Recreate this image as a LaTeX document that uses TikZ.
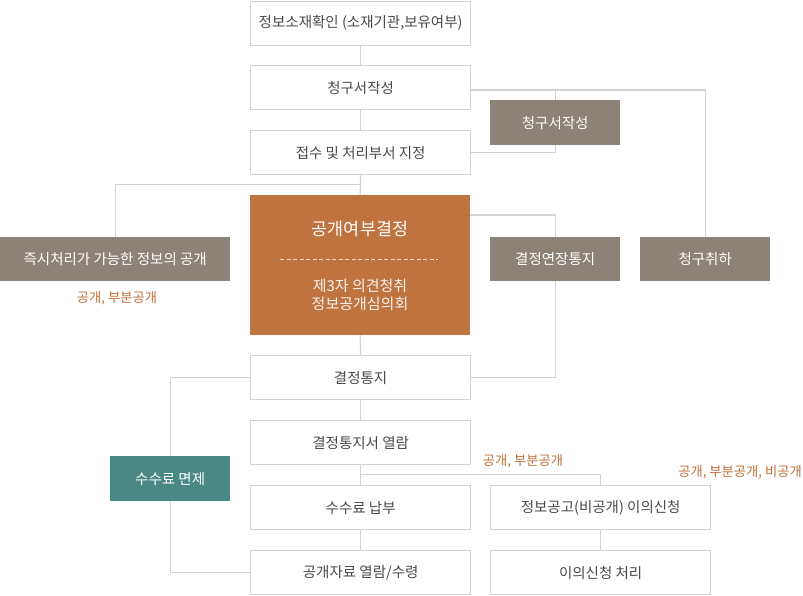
\documentclass[tikz,border=0pt]{standalone}
\usepackage{fontspec}
\setmainfont{Noto Sans CJK KR}
\usetikzlibrary{calc}
\definecolor{linegray}{HTML}{D3D3D3}
\definecolor{txtgray}{HTML}{4A4A4A}
\definecolor{boxgray}{HTML}{8C8278}
\definecolor{boxorange}{HTML}{BF733F}
\definecolor{boxteal}{HTML}{4A8983}
\definecolor{lblorange}{HTML}{C0703A}
\tikzset{
  base/.style={anchor=north west, inner sep=0pt, align=center, font=\fontsize{14.5}{17}\selectfont},
  wbox/.style={base, draw=linegray, line width=1.3pt, fill=white, text=txtgray, minimum width=220pt, minimum height=44pt},
  gbox/.style={base, fill=boxgray, text=white, minimum width=130pt, minimum height=44pt},
  conn/.style={draw=linegray, line width=1.3pt},
  lbl/.style={text=lblorange, inner sep=0pt, font=\fontsize{13.3}{15}\selectfont},
}
\begin{document}
\begin{tikzpicture}[x=1pt,y=-1pt]
\useasboundingbox (0,0) rectangle (803,595);
\coordinate (c1) at (360,184.5);
\coordinate (c2) at (360,474.5);
\coordinate (r1) at (470,90);
\coordinate (r2) at (470,215);
% boxes
\node[wbox] (n1) at (250,0.7) {정보소재확인 (소재기관,보유여부)};
\node[wbox] (n2) at (250,65) {청구서작성};
\node[wbox] (n3) at (250,130) {접수 및 처리부서 지정};
\node[base, fill=boxorange, text=white, minimum width=220pt, minimum height=140pt] (dec) at (250,195) {};
\node[wbox] (n5) at (250,355) {결정통지};
\node[wbox] (n6) at (250,420) {결정통지서 열람};
\node[wbox] (n7) at (250,485) {수수료 납부};
\node[wbox] (n8) at (250,550) {공개자료 열람/수령};
\node[gbox, minimum width=230pt] (imm) at (0,237) {즉시처리가 가능한 정보의 공개};
\node[gbox, minimum height=45pt] (req) at (490,100) {청구서작성};
\node[gbox] (ext) at (490,237) {결정연장통지};
\node[gbox] (wd) at (640,237) {청구취하};
\node[base, fill=boxteal, text=white, minimum width=120pt, minimum height=45pt] (fee) at (110,456) {수수료 면제};
\node[wbox] (pub) at (490,485) {정보공고(비공개) 이의신청};
\node[wbox] (obj) at (490,550) {이의신청 처리};
% text inside decision box
\node[text=white, font=\fontsize{17.4}{20}\selectfont, inner sep=0pt] (dt) at (360,229) {공개여부결정};
\draw[white!75!boxorange, line width=0.8pt, dash pattern=on 4pt off 2.5pt] (280,259) -- (438,259);
\node[text=white!92!boxorange, align=center, font=\fontsize{15}{17.7}\selectfont, inner sep=0pt] (dsub) at (360,295) {제3자 의견청취\\정보공개심의회};
% connectors
\draw[conn] (n1.south) -- (n2.north);
\draw[conn] (n2.south) -- (n3.north);
\draw[conn] (n3.south) -- (dec.north);
\draw[conn] (dec.south) -- (n5.north);
\draw[conn] (n5.south) -- (n6.north);
\draw[conn] (n6.south) -- (n7.north);
\draw[conn] (n7.south) -- (n8.north);
\draw[conn] (imm.north) |- (c1);
\draw[conn] (r1) -| (wd.north);
\draw[conn] (req.north) -- (req.north |- r1);
\draw[conn] (req.south) |- (n3.east);
\draw[conn] (r2) -| (ext.north);
\draw[conn] (ext.south) |- (n5.east);
\draw[conn] (n5.west) -| (fee.north);
\draw[conn] (fee.south) |- (n8.west);
\draw[conn] (c2) -| (pub.north);
\draw[conn] (pub.south) -- (obj.north);
% labels
\node[lbl] (l1) at (117,298) {공개, 부분공개};
\node[lbl] (l2) at (523,461) {공개, 부분공개};
\node[lbl, anchor=east] (l3) at (802,472) {공개, 부분공개, 비공개};
\end{tikzpicture}
\end{document}
